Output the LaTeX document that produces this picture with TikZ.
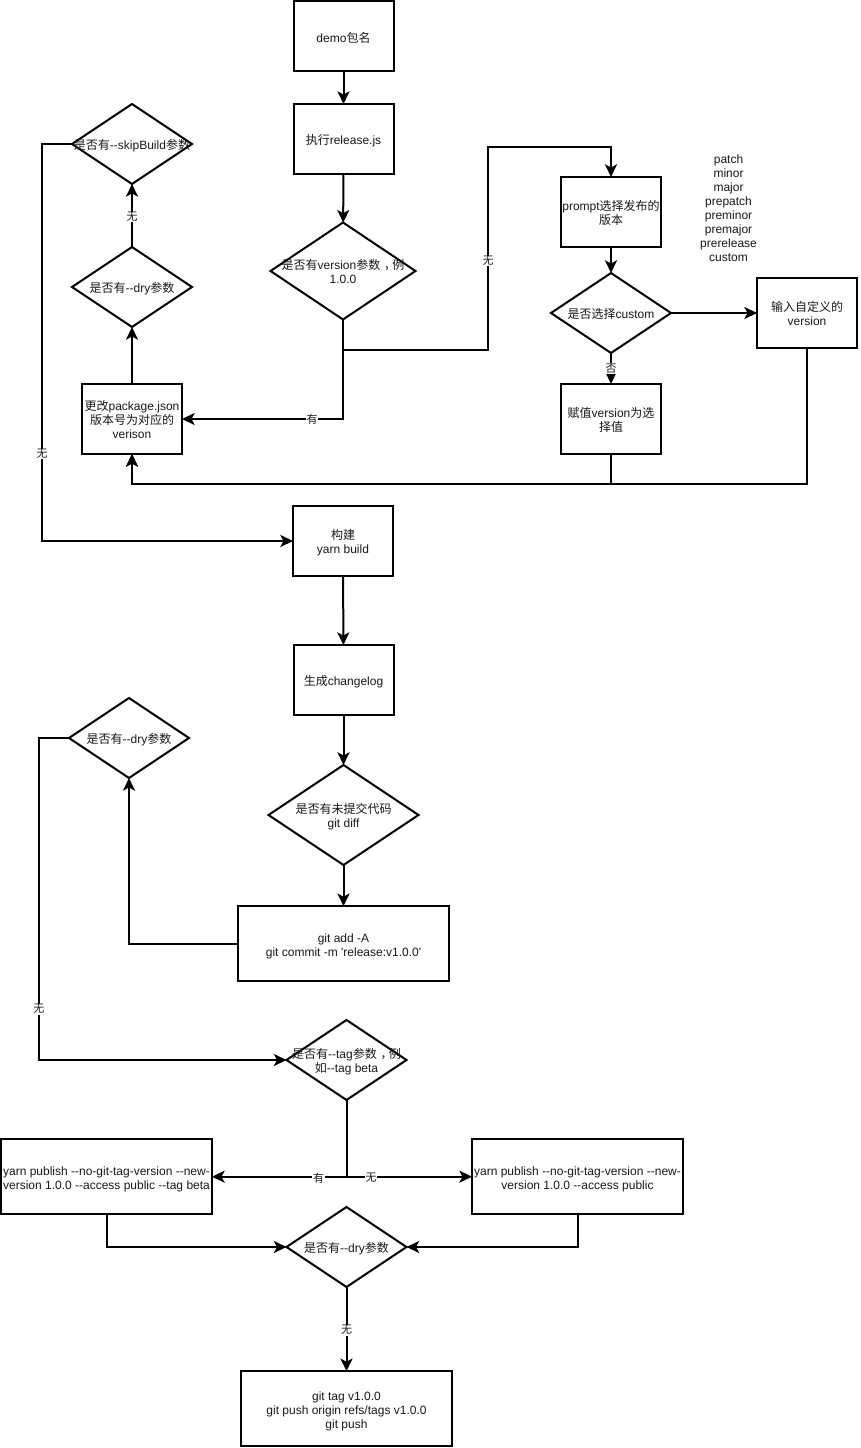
\documentclass[tikz,border=0pt]{standalone}
\usepackage{fontspec}
\usetikzlibrary{arrows.meta,shapes.geometric}
\newfontfamily\libf{Liberation Sans}
\newfontfamily\cjkf{Noto Sans CJK SC}
\newcommand{\zh}[1]{{\cjkf #1}}
\newcommand{\zhc}{{\cjkf\kern2.8pt ，\kern-2.8pt}}
\tikzset{
  x=0.75pt,y=-0.75pt,
  base/.style={draw=black,line width=1.5pt,fill=white,inner sep=0pt,outer sep=0pt},
  bxs/.style={base,rectangle,minimum width=75pt,minimum height=52.5pt},
  bxl/.style={base,rectangle,minimum width=158.25pt,minimum height=56.25pt},
  dia/.style={base,diamond,minimum width=90pt,minimum height=60pt},
  plain/.style={align=center,inner sep=0pt,text=black!90,font=\libf\fontsize{9}{10.5}\selectfont},
  txt/.style={plain,yshift=-1.1pt},
  txtup/.style={plain,yshift=-0.4pt},
  txtdn/.style={plain,yshift=-1.8pt},
  lbl/.style={fill=white,inner sep=0.6pt,text=black!90,font=\libf\fontsize{8.25}{9.5}\selectfont},
  conn/.style={draw=black,line width=1.5pt,line join=miter,-{Stealth[length=9.5pt,width=9pt,inset=2.4pt]}},
  seg/.style={draw=black,line width=1.5pt,line join=miter},
}
\begin{document}
\begin{tikzpicture}
\useasboundingbox (0,0) rectangle (860,1448);
\fill[white] (0,0) rectangle (860,1448);
% boxes
\node[bxs] (demo) at (343.5,36.5) {};
\node[bxs] (release) at (343.5,139) {};
\node[bxs] (package) at (132,419) {};
\node[bxs] (prompt) at (611,212) {};
\node[bxs] (input) at (807,313) {};
\node[bxs] (assign) at (611,419) {};
\node[bxs] (build) at (343,541) {};
\node[bxs] (changelog) at (343.5,680) {};
\node[bxl] (gitadd) at (343.5,943.7) {};
\node[bxl] (yleft) at (106.5,1176.7) {};
\node[bxl] (yright) at (577.5,1176.7) {};
\node[bxl] (gittag) at (346.5,1408.7) {};
% box texts
\node[txt] (demoT) at (demo.center) {demo\zh{包名}};
\node[txt] (releaseT) at (release.center) {\zh{执行}release.js};
\node[txtup] (packageT) at (package.center) {\zh{更改}package.json\\\zh{版本号为对应的}\\verison};
\node[txtup] (promptT) at (prompt.center) {prompt\zh{选择发布的}\\\zh{版本}};
\node[txtup] (inputT) at (input.center) {\zh{输入自定义的}\\version};
\node[txtup] (assignT) at (assign.center) {\zh{赋值}version\zh{为选}\\\zh{择值}};
\node[txt] (buildT) at (build.center) {\zh{构建}\\yarn build};
\node[txt] (changelogT) at (changelog.center) {\zh{生成}changelog};
\node[txtdn] (gitaddT) at (gitadd.center) {git add -A\\git commit -m 'release:v1.0.0'};
\node[txtdn] (yleftT) at (yleft.center) {yarn publish -{}-no-git-tag-version -{}-new-\\version 1.0.0 -{}-access public -{}-tag beta};
\node[txtdn] (yrightT) at (yright.center) {yarn publish -{}-no-git-tag-version -{}-new-\\version 1.0.0 -{}-access public};
\node[txtdn] (gittagT) at (gittag.center) {git tag v1.0.0\\git push origin refs/tags v1.0.0\\git push};
% diamonds
\node[dia] (version) at (343,271) [minimum width=108.75pt,minimum height=72.75pt] {};
\node[dia] (skip) at (132,144) {};
\node[dia] (dryA) at (132,287) {};
\node[dia] (custom) at (611,313) {};
\node[dia] (dryB) at (129,738) {};
\node[dia] (diff) at (343.5,815) [minimum width=112.5pt,minimum height=75pt] {};
\node[dia] (tag) at (346.5,1060) {};
\node[dia] (dryC) at (346.5,1247) {};
% diamond texts
\node[txtup] (versionT) at (version.center) {\zh{是否有}version\zh{参数}\zhc\zh{例}\\1.0.0};
\node[txt] (skipT) at (skip.center) {\zh{是否有}-{}-skipBuild\zh{参数}};
\node[txt] (dryAT) at (dryA.center) {\zh{是否有}-{}-dry\zh{参数}};
\node[txtup] (customT) at (custom.center) {\zh{是否选择}custom};
\node[txt] (dryBT) at (dryB.center) {\zh{是否有}-{}-dry\zh{参数}};
\node[txt] (diffT) at (diff.center) {\zh{是否有未提交代码}\\git diff};
\node[txt] (tagT) at (tag.center) {\zh{是否有}-{}-tag\zh{参数}\zhc\zh{例}\\\zh{如}-{}-tag beta};
\node[txt] (dryCT) at (dryC.center) {\zh{是否有}-{}-dry\zh{参数}};
% free text
\node[plain] (list) at (728.5,208) {patch\\minor\\major\\prepatch\\preminor\\premajor\\prerelease\\custom};
% waypoints
\coordinate (vj) at (343,350);
\coordinate (vr) at (488,350);
\coordinate (vt) at (488,147);
\coordinate (pt) at (611,147);
\coordinate (bj) at (611,484);
\coordinate (bi) at (807,484);
\coordinate (bp) at (132,484);
\coordinate (sl) at (42,144);
\coordinate (sb) at (42,541);
\coordinate (dl) at (39,738);
\coordinate (db) at (39,1060);
\coordinate (tj) at (346.5,1176.7);
% connectors
\draw[conn] (demo) -- (release);
\draw[conn] (release) -- (version);
\draw[conn] (version.south) |- (package.east);
\draw[conn] (vj) -- (vr) -- (vt) -- (pt) -- (prompt.north);
\draw[conn] (prompt) -- (custom);
\draw[conn] (custom) -- (input);
\draw[conn] (custom) -- (assign);
\draw[conn] (assign.south) -- (bj) -- (bp) -- (package.south);
\draw[conn] (input.south) -- (bi) -- (bp) -- (package.south);
\draw[conn] (package) -- (dryA);
\draw[conn] (dryA) -- (skip);
\draw[conn] (skip.west) -- (sl) -- (sb) -- (build.west);
\draw[conn] (build) -- (changelog);
\draw[conn] (changelog) -- (diff);
\draw[conn] (diff) -- (gitadd);
\draw[conn] (gitadd.west) -| (dryB.south);
\draw[conn] (dryB.west) -- (dl) -- (db) -- (tag.west);
\draw[seg] (tag.south) -- (tj);
\draw[conn] (tj) -- (yleft.east);
\draw[conn] (tj) -- (yright.west);
\draw[conn] (yleft.south) |- (dryC.west);
\draw[conn] (yright.south) |- (dryC.east);
\draw[conn] (dryC) -- (gittag);
% connector labels
\node[lbl] (l1) at (312,419.5) {\zh{有}};
\node[lbl] (l2) at (488,261) {\zh{无}};
\node[lbl] (l3) at (611,368.5) {\zh{否}};
\node[lbl] (l4) at (132,217) {\zh{无}};
\node[lbl] (l5) at (42,454) {\zh{无}};
\node[lbl] (l6) at (39,1009) {\zh{无}};
\node[lbl] (l7) at (318.5,1178) {\zh{有}};
\node[lbl] (l8) at (371,1178) {\zh{无}};
\node[lbl] (l9) at (346.5,1330) {\zh{无}};
\end{tikzpicture}
\end{document}
